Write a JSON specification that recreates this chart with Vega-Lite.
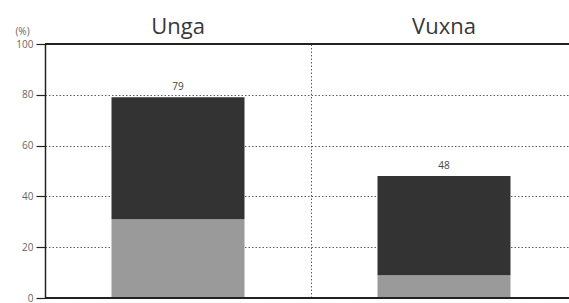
{
  "$schema": "https://vega.github.io/schema/vega-lite/v6.json",
  "width": 524,
  "height": 254,
  "autosize": "none",
  "padding": {"left": 45, "top": 44, "right": 0, "bottom": 5},
  "background": "white",
  "config": {"view": {"stroke": null}, "font": "Open Sans"},
  "data": {
    "values": [
      {"group": "Unga", "part": "nedre", "value": 31},
      {"group": "Unga", "part": "övre", "value": 48},
      {"group": "Vuxna", "part": "nedre", "value": 9},
      {"group": "Vuxna", "part": "övre", "value": 39}
    ]
  },
  "resolve": {"axis": {"x": "independent"}},
  "layer": [
    {
      "mark": {"type": "bar"},
      "encoding": {
        "x": {
          "field": "group",
          "type": "nominal",
          "scale": {"range": [0, 532], "paddingInner": 0.5, "paddingOuter": 0.25},
          "axis": {
            "orient": "top",
            "title": null,
            "domain": false,
            "ticks": false,
            "labelAngle": 0,
            "labelFontSize": 22,
            "labelColor": "#383838",
            "labelPadding": 6,
            "grid": false
          }
        },
        "y": {
          "field": "value",
          "type": "quantitative",
          "stack": "zero",
          "scale": {"domain": [0, 100], "nice": false},
          "axis": {
            "values": [0, 20, 40, 60, 80, 100],
            "grid": true,
            "gridDash": [1.5, 2],
            "gridColor": "#333",
            "gridWidth": 0.8,
            "domainColor": "#222",
            "domainWidth": 1.5,
            "tickSize": 9,
            "tickColor": "#222",
            "tickWidth": 1.2,
            "labelFontSize": 10,
            "labelColor": "#666",
            "labelPadding": 3,
            "title": "(%)",
            "titleAngle": 0,
            "titleX": -23,
            "titleY": -13,
            "titleAlign": "center",
            "titleBaseline": "middle",
            "titleFontSize": 10,
            "titleFontWeight": "normal",
            "titleColor": "#666"
          }
        },
        "color": {
          "field": "part",
          "type": "nominal",
          "scale": {"domain": ["nedre", "övre"], "range": ["#9a9a9a", "#333333"]},
          "legend": null
        },
        "order": {"field": "part", "type": "nominal"}
      }
    },
    {
      "mark": {"type": "text", "dy": -10, "fontSize": 10, "color": "#444"},
      "encoding": {
        "x": {
          "field": "group",
          "type": "nominal",
          "axis": {
            "orient": "bottom",
            "title": null,
            "domain": false,
            "ticks": false,
            "labels": false,
            "grid": true,
            "bandPosition": -0.5,
            "gridDash": [1.5, 2],
            "gridColor": "#333",
            "gridWidth": 0.8
          }
        },
        "y": {"aggregate": "sum", "field": "value", "type": "quantitative"},
        "text": {"aggregate": "sum", "field": "value", "type": "quantitative"}
      }
    },
    {
      "mark": {"type": "rule", "color": "#222", "strokeWidth": 1.5},
      "encoding": {"y": {"datum": 100}}
    },
    {
      "mark": {"type": "rule", "color": "#222", "strokeWidth": 1.5},
      "encoding": {"y": {"datum": 0}}
    }
  ]
}
